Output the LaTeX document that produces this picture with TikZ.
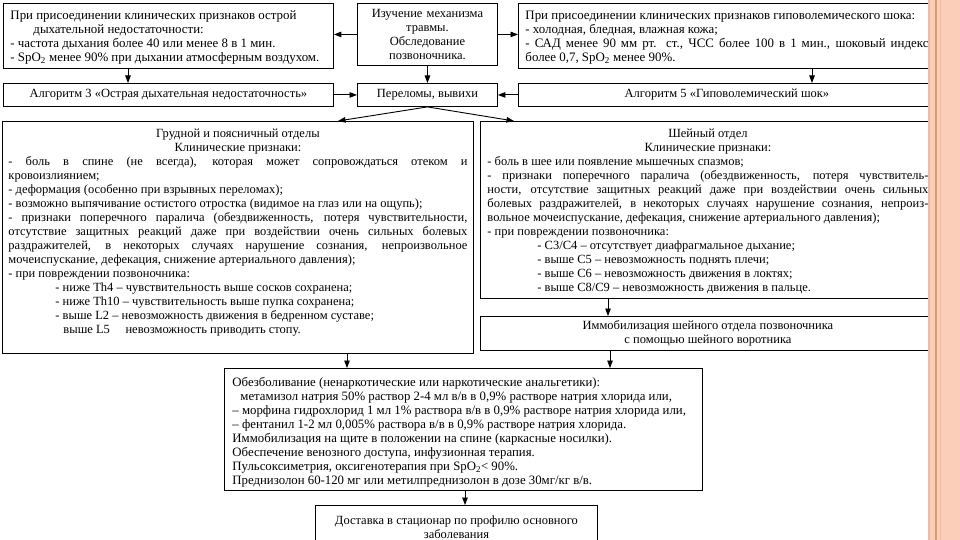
\documentclass[tikz,border=0pt]{standalone}
\usepackage{fontspec}
\setmainfont{Liberation Serif}
\usetikzlibrary{arrows.meta,calc}
\definecolor{strip}{RGB}{251,206,186}
\definecolor{stripline}{RGB}{226,152,112}
\definecolor{stripl2}{RGB}{242,186,160}
\tikzset{
  box/.style={draw, line width=0.9pt, anchor=north west, inner ysep=0pt},
  arr/.style={line width=0.9pt, -{Triangle[length=7.5pt,width=5.5pt]}},
  fa/.style={font=\fontsize{12.9}{14}\selectfont},
  fb/.style={font=\fontsize{12.5}{14}\selectfont},
  fd/.style={font=\fontsize{12.5}{14}\selectfont},
  ff/.style={font=\fontsize{12.8}{14}\selectfont},
}
\begin{document}
\begin{tikzpicture}[x=1pt,y=-1pt]
\useasboundingbox (0,0) rectangle (960,540);
\clip (0,0) rectangle (960,540);
\fill[white] (0,0) rectangle (960,540);
% top row
\node[box, fa, inner xsep=7pt] (A) at (3,3)
 {\begin{minipage}[c][65pt][t]{316pt}\vspace*{6.7pt}%
  \strut При присоединении клинических признаков острой\\
  \hspace*{23pt}дыхательной недостаточности:\\
  - частота дыхания более 40 или менее 8 в 1 мин.\\
  - SpO\textsubscript{2} менее 90\% при дыхании атмосферным воздухом.\end{minipage}};
\node[box, fb, minimum width=140pt, minimum height=62pt, text width=132pt, inner xsep=4pt, align=center] (B) at (357,3)
 {Изучение механизма\\ травмы.\\ Обследование\\ позвоночника.};
\node[box, fa, inner xsep=7pt] (C) at (518,3)
 {\begin{minipage}[c][65pt][t]{403pt}\vspace*{6.7pt}%
  \strut При присоединении клинических признаков гиповолемического шока:\\
  - холодная, бледная, влажная кожа;\\
  - САД менее 90 мм рт. ст., ЧСС более 100 в 1 мин., шоковый индекс\linebreak
  более 0,7, SpO\textsubscript{2} менее 90\%.\end{minipage}};
% second row
\node[box, fb, minimum width=330pt, minimum height=23pt, align=center] (Alg3) at (3,83)
 {Алгоритм 3 «Острая дыхательная недостаточность»};
\node[box, fb, minimum width=140pt, minimum height=23pt, align=center] (P) at (357,83)
 {Переломы, вывихи};
\node[box, fb, minimum width=417pt, minimum height=23pt, align=center] (Alg5) at (518,83)
 {Алгоритм 5 «Гиповолемический шок»};
% big boxes
\node[box, fd, inner xsep=6pt] (D) at (2,121)
 {\begin{minipage}[c][232pt][t]{459pt}\vspace*{6.7pt}%
  \centerline{\strut Грудной и поясничный отделы}
  \centerline{Клинические признаки:}
  - боль в спине (не всегда), которая может сопровождаться отеком и\linebreak
  кровоизлиянием;\\
  - деформация (особенно при взрывных переломах);\\
  - возможно выпячивание остистого отростка (видимое на глаз или на ощупь);\\
  - признаки поперечного паралича (обездвиженность, потеря чувствительности,\linebreak
  отсутствие защитных реакций даже при воздействии очень сильных болевых\linebreak
  раздражителей, в некоторых случаях нарушение сознания, непроизвольное\linebreak
  мочеиспускание, дефекация, снижение артериального давления);\\
  - при повреждении позвоночника:\\
  \hspace*{47pt}- ниже Th4 – чувствительность выше сосков сохранена;\\
  \hspace*{47pt}- ниже Th10 – чувствительность выше пупка сохранена;\\
  \hspace*{47pt}- выше L2 – невозможность движения в бедренном суставе;\\
  \hspace*{55pt}выше L5 \quad невозможность приводить стопу.\end{minipage}};
\node[box, fd, inner xsep=7pt] (E) at (480,121)
 {\begin{minipage}[c][177pt][t]{441pt}\vspace*{6.7pt}%
  \centerline{\strut Шейный отдел}
  \centerline{Клинические признаки:}
  - боль в шее или появление мышечных спазмов;\\
  - признаки поперечного паралича (обездвиженность, потеря чувствитель-\linebreak
  ности, отсутствие защитных реакций даже при воздействии очень сильных\linebreak
  болевых раздражителей, в некоторых случаях нарушение сознания, непроиз-\linebreak
  вольное мочеиспускание, дефекация, снижение артериального давления);\\
  - при повреждении позвоночника:\\
  \hspace*{50pt}- С3/С4 – отсутствует диафрагмальное дыхание;\\
  \hspace*{50pt}- выше С5 – невозможность поднять плечи;\\
  \hspace*{50pt}- выше С6 – невозможность движения в локтях;\\
  \hspace*{50pt}- выше С8/С9 – невозможность движения в пальце.\end{minipage}};
\node[box, fb, minimum width=455pt, minimum height=34pt, align=center] (Imm) at (480,316)
 {Иммобилизация шейного отдела позвоночника\\ с помощью шейного воротника};
\node[box, ff, inner xsep=8pt] (F) at (224,368)
 {\begin{minipage}[c][122pt][t]{462pt}\vspace*{8.7pt}%
  \strut Обезболивание (ненаркотические или наркотические анальгетики):\\
  \hspace*{8pt}метамизол натрия 50\% раствор 2-4 мл в/в в 0,9\% растворе натрия хлорида или,\\
  – морфина гидрохлорид 1 мл 1\% раствора в/в в 0,9\% растворе натрия хлорида или,\\
  – фентанил 1-2 мл 0,005\% раствора в/в в 0,9\% растворе натрия хлорида.\\
  Иммобилизация на щите в положении на спине (каркасные носилки).\\
  Обеспечение венозного доступа, инфузионная терапия.\\
  Пульсоксиметрия, оксигенотерапия при SpO\textsubscript{2}< 90\%.\\
  Преднизолон 60-120 мг или метилпреднизолон в дозе 30мг/кг в/в.\end{minipage}};
\node[box, fb, minimum width=282pt, minimum height=43pt, align=center] (G) at (315,505)
 {Доставка в стационар по профилю основного\\ заболевания};
% helper x positions
\coordinate (xa) at (128,0);
\coordinate (xc) at (812,0);
\coordinate (xd) at (338,0);
\coordinate (xe) at (514,0);
\coordinate (xdf) at (347,0);
\coordinate (xei) at (608,0);
\coordinate (xif) at (610,0);
\coordinate (xfg) at (465,0);
% connectors
\draw[arr] (B.west) -- (B.west -| A.east);
\draw[arr] (B.east) -- (B.east -| C.west);
\draw[arr] (B.south) -- (P.north);
\draw[arr] (A.south -| xa) -- (Alg3.north -| xa);
\draw[arr] (C.south -| xc) -- (Alg5.north -| xc);
\draw[arr] (Alg3.east) -- (P.west);
\draw[arr] (Alg5.west) -- (P.east);
\draw[arr] (P.south) -- (D.north -| xd);
\draw[arr] (P.south) -- (E.north -| xe);
\draw[arr] (D.south -| xdf) -- (F.north -| xdf);
\draw[arr] (E.south -| xei) -- (Imm.north -| xei);
\draw[arr] (Imm.south -| xif) -- (F.north -| xif);
\draw[arr] (F.south -| xfg) -- (G.north -| xfg);
% right decorative strip
\fill[strip] (928,0) rectangle (960,540);
\fill[stripl2] (928,0) rectangle (930,540);
\draw[stripline, line width=1.6pt] (936,0) -- (936,540);
\draw[stripl2, line width=1pt] (940,0) -- (940,540);
\end{tikzpicture}
\end{document}
